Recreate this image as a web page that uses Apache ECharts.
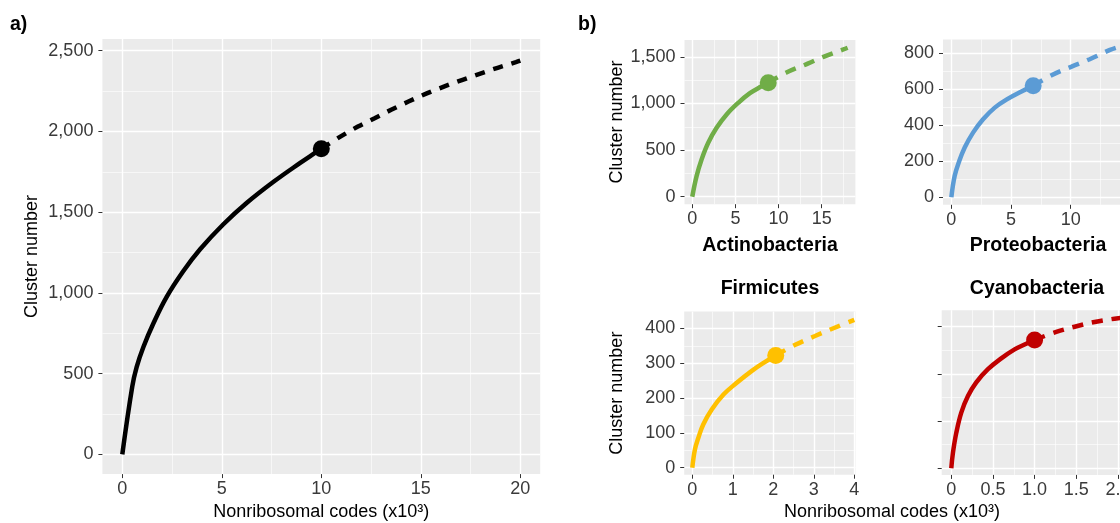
<!DOCTYPE html>
<html>
<head>
<meta charset="utf-8">
<script src="https://cdn.jsdelivr.net/npm/echarts@6/dist/echarts.min.js"></script>
<style>
html, body { margin: 0; padding: 0; background: #fff; }
#main { width: 1120px; height: 523px; }
</style>
</head>
<body>
<div id="main"></div>
<script>
// a) all genomes: observed curve, projected (dashed) curve, observed end point
var allX = [0, 0.5, 0.72, 1.06, 1.56, 2.23, 3.07, 3.91, 5.08, 6.26, 7.6, 8.94, 9.7, 10];
var allY = [0, 419, 540, 665, 810, 975, 1135, 1270, 1425, 1558, 1688, 1805, 1868, 1893];
var allExtX = [10, 11, 11.84, 12.68, 13.51, 14.38, 15.27, 16.19, 17.1, 18.03, 18.86, 19.78, 20];
var allExtY = [1893, 1971, 2030, 2082, 2134, 2185, 2234, 2279, 2320, 2360, 2394, 2429, 2438];
var allTicksX = [0, 5, 10, 15, 20];
var allTicksY = [0, 500, 1000, 1500, 2000, 2500];
var allMinorX = [2.5, 7.5, 12.5, 17.5];
var allMinorY = [250, 750, 1250, 1750, 2250];

// b) Actinobacteria
var actX = [0, 0.5, 1.08, 1.85, 2.82, 3.98, 5.33, 6.68, 8.03, 8.8];
var actY = [0, 221, 400, 579, 739, 882, 1007, 1110, 1184, 1221];
var actExtX = [8.8, 10.85, 13.44, 15.2, 17.5, 18];
var actExtY = [1221, 1329, 1429, 1500, 1579, 1597];
var actTicksX = [0, 5, 10, 15];
var actTicksY = [0, 500, 1000, 1500];
var actMinorX = [2.5, 7.5, 12.5, 17.5];
var actMinorY = [250, 750, 1250];

// b) Proteobacteria
var proX = [0, 0.28, 0.62, 1.12, 1.82, 2.66, 3.64, 4.76, 5.88, 6.86];
var proY = [0, 119, 193, 276, 359, 433, 498, 548, 588, 619];
var proExtX = [6.86, 8.4, 10.08, 11.6, 13.3, 14];
var proExtY = [619, 678, 726, 767, 819, 835];
var proTicksX = [0, 5, 10];
var proTicksY = [0, 200, 400, 600, 800];
var proMinorX = [2.5, 7.5, 12.5];
var proMinorY = [100, 300, 500, 700];

// b) Firmicutes
var firX = [0, 0.066, 0.15, 0.27, 0.48, 0.77, 1.09, 1.47, 1.79, 2.06];
var firY = [0, 53, 86, 124, 167, 210, 243, 278, 303, 322];
var firExtX = [2.06, 2.53, 3.03, 3.5, 4];
var firExtY = [322, 352, 378, 401, 424];
var firTicksX = [0, 1, 2, 3, 4];
var firTicksY = [0, 100, 200, 300, 400];
var firMinorX = [0.5, 1.5, 2.5, 3.5];
var firMinorY = [50, 150, 250, 350];

// b) Cyanobacteria (y tick labels are not shown in the figure)
var cyaX = [0, 0.02, 0.06, 0.12, 0.2, 0.3, 0.44, 0.6, 0.76, 0.9, 1];
var cyaY = [0, 33, 75, 118, 153, 182, 210, 233, 252, 264, 272];
var cyaExtX = [1, 1.26, 1.48, 1.72, 1.96, 2.3];
var cyaExtY = [272, 289, 300, 310, 317, 325];
var cyaTicksX = [0, 0.5, 1, 1.5, 2];
var cyaTicksY = [0, 100, 200, 300];
var cyaMinorX = [0.25, 0.75, 1.25, 1.75, 2.25];
var cyaMinorY = [50, 150, 250];

var FONT = '"Liberation Sans", Arial, sans-serif';

var pairs = function(xs, ys) {
	return xs.map(function(x, i) { return [x, ys[i]]; });
};

var comma = function(v) {
	return String(v).replace(/\B(?=(\d{3})+(?!\d))/g, ',');
};

var panels = [
	{ key: 'all', color: '#000000', obsX: allX, obsY: allY, extX: allExtX, extY: allExtY,
	  tx: allTicksX, ty: allTicksY, mx: allMinorX, my: allMinorY,
	  box: [102.4, 39, 437.8, 435.1], xr: [-1, 21], yr: [-122.5, 2572.5],
	  yName: 'Cluster number', yGap: 61, xName: 'Nonribosomal codes (x10³)', dash: [10, 9] },
	{ key: 'act', color: '#70AD47', obsX: actX, obsY: actY, extX: actExtX, extY: actExtY,
	  tx: actTicksX, ty: actTicksY, mx: actMinorX, my: actMinorY,
	  box: [684.5, 40, 170.9, 164.2], xr: [-0.9, 18.9], yr: [-80, 1680],
	  yName: 'Cluster number', yGap: 58, dash: [11, 9] },
	{ key: 'pro', color: '#5B9BD5', obsX: proX, obsY: proY, extX: proExtX, extY: proExtY,
	  tx: proTicksX, ty: proTicksY, mx: proMinorX, my: proMinorY,
	  box: [943, 39.4, 183.7, 165.4], xr: [-0.7, 14.7], yr: [-42, 877], dash: [11, 9] },
	{ key: 'fir', color: '#FFC000', obsX: firX, obsY: firY, extX: firExtX, extY: firExtY,
	  tx: firTicksX, ty: firTicksY, mx: firMinorX, my: firMinorY,
	  box: [684.2, 311.6, 171.3, 163.1], xr: [-0.2, 4.03], yr: [-20, 448],
	  yName: 'Cluster number', yGap: 58, dash: [11, 9] },
	{ key: 'cya', color: '#C00000', obsX: cyaX, obsY: cyaY, extX: cyaExtX, extY: cyaExtY,
	  tx: cyaTicksX, ty: cyaTicksY, mx: cyaMinorX, my: cyaMinorY,
	  box: [941.7, 310.2, 210.8, 164.7], xr: [-0.115, 2.415], yr: [-14, 335],
	  hideY: true, dash: [11, 9],
	  xFmt: function(v) { return v === 0 ? '0' : v.toFixed(1); } }
];

var grids = [], xAxes = [], yAxes = [], series = [];

panels.forEach(function(p, gi) {
	grids.push({
		left: p.box[0], top: p.box[1], width: p.box[2], height: p.box[3],
		show: true, backgroundColor: '#EBEBEB', borderWidth: 0,
		outerBoundsMode: 'none'
	});

	var tickStyle = { show: true, length: 4, lineStyle: { color: '#333', width: 1 } };

	// major axes
	xAxes.push({
		type: 'value', gridIndex: gi, min: p.xr[0], max: p.xr[1], position: 'bottom',
		axisLine: { show: false, onZero: false },
		axisTick: Object.assign({ customValues: p.tx }, tickStyle),
		axisLabel: { customValues: p.tx, color: '#3a3a3a', fontSize: 18, fontFamily: FONT, margin: 6,
			formatter: p.xFmt || function(v) { return comma(v); } },
		splitLine: { show: true, lineStyle: { color: '#fff', width: 1.4 } },
		name: p.xName || '', nameLocation: 'middle', nameGap: 28,
		nameTextStyle: { color: '#000', fontSize: 18, fontFamily: FONT }
	});
	yAxes.push({
		type: 'value', gridIndex: gi, min: p.yr[0], max: p.yr[1], position: 'left',
		axisLine: { show: false, onZero: false },
		axisTick: Object.assign({ customValues: p.ty }, tickStyle),
		axisLabel: { show: !p.hideY, customValues: p.ty, color: '#3a3a3a', fontSize: 18, fontFamily: FONT, margin: 9,
			formatter: function(v) { return comma(v); } },
		splitLine: { show: true, lineStyle: { color: '#fff', width: 1.4 } },
		name: p.yName || '', nameLocation: 'middle', nameGap: p.yGap || 50,
		nameTextStyle: { color: '#000', fontSize: 18, fontFamily: FONT }
	});
	// minor grid lines
	xAxes.push({
		type: 'value', gridIndex: gi, min: p.xr[0], max: p.xr[1], position: 'top',
		axisLine: { show: false, onZero: false }, axisTick: { show: false, customValues: p.mx },
		axisLabel: { show: false },
		splitLine: { show: true, lineStyle: { color: '#fff', width: 0.6 } }
	});
	yAxes.push({
		type: 'value', gridIndex: gi, min: p.yr[0], max: p.yr[1], position: 'right',
		axisLine: { show: false, onZero: false }, axisTick: { show: false, customValues: p.my },
		axisLabel: { show: false },
		splitLine: { show: true, lineStyle: { color: '#fff', width: 0.6 } }
	});

	var xi = gi * 2, yi = gi * 2;
	series.push({
		name: p.key + ' observed', type: 'line', xAxisIndex: xi, yAxisIndex: yi,
		data: pairs(p.obsX, p.obsY), showSymbol: false, smooth: 0.4,
		lineStyle: { color: p.color, width: 4.5 }, silent: true
	});
	series.push({
		name: p.key + ' projected', type: 'line', xAxisIndex: xi, yAxisIndex: yi,
		data: pairs(p.extX, p.extY), showSymbol: false, smooth: 0.4,
		lineStyle: { color: p.color, width: 4.5, type: p.dash }, silent: true
	});
	series.push({
		name: p.key + ' point', type: 'scatter', xAxisIndex: xi, yAxisIndex: yi,
		data: [[p.obsX[p.obsX.length - 1], p.obsY[p.obsY.length - 1]]],
		symbolSize: 17, itemStyle: { color: p.color, opacity: 1 }, z: 5, silent: true
	});
});

var label = function(text, x, y, size, bold, align) {
	return {
		type: 'text', x: x, y: y, silent: true,
		style: { text: text, fill: '#000', font: (bold ? 'bold ' : '') + size + 'px ' + FONT,
			textAlign: align || 'center', textVerticalAlign: 'middle',
			align: align || 'center', verticalAlign: 'middle' }
	};
};

var myChart = echarts.init(document.getElementById('main'), null, { renderer: 'canvas' });

myChart.setOption({
	animation: false,
	backgroundColor: '#ffffff',
	grid: grids,
	xAxis: xAxes,
	yAxis: yAxes,
	series: series,
	graphic: [
		label('a)', 10, 25, 19.5, true, 'left'),
		label('b)', 578, 25, 19.5, true, 'left'),
		label('Actinobacteria', 770, 246, 19.5, true),
		label('Proteobacteria', 1038, 246, 19.5, true),
		label('Firmicutes', 770, 289, 19.5, true),
		label('Cyanobacteria', 1037, 289, 19.5, true),
		label('Nonribosomal codes (x10³)', 892, 512, 18, false)
	]
});
</script>
</body>
</html>
